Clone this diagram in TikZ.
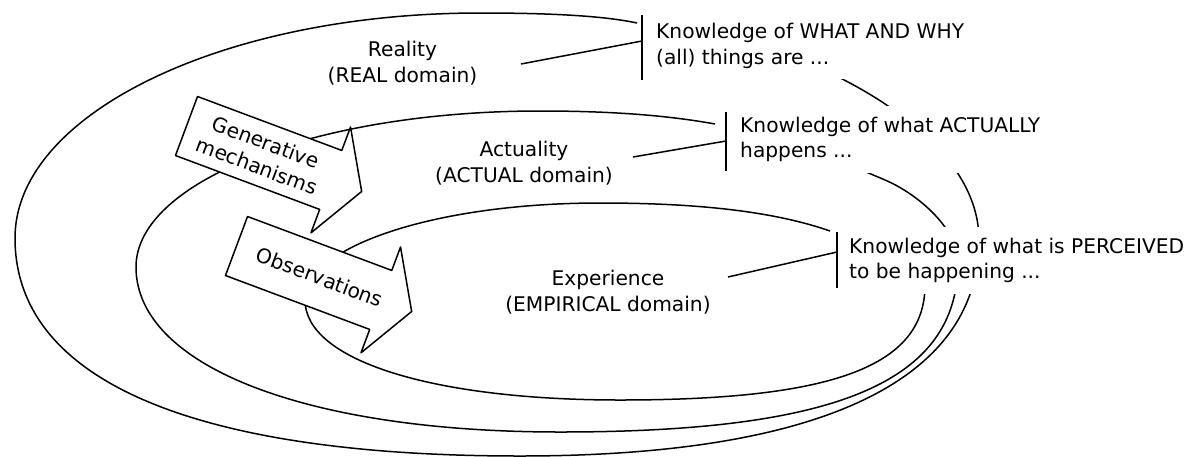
\documentclass[tikz,border=0pt]{standalone}
\usepackage{fontspec}
\setmainfont{DejaVu Sans}
\begin{document}
\begin{tikzpicture}[x=1pt,y=-1pt,line join=round,
  txt/.style={font=\fontsize{20.2}{25.5}\selectfont},
  lbl/.style={txt,align=center,inner sep=0pt},
  know/.style={txt,align=left,fill=white,inner xsep=4pt,inner ysep=11pt,anchor=base west},
  ring/.style={line width=1.5pt},
  link/.style={line width=1.5pt},
  blockarrow/.style={line width=1.5pt,fill=white}]
\useasboundingbox (0,0) rectangle (1188,456);

% outer ring (REAL)
\draw[ring] (637,23) .. controls (600,15) and (540,13) .. (480,13)
  .. controls (223,13) and (15,114) .. (15,238)
  .. controls (15,380) and (192,456) .. (520,456)
  .. controls (821,456) and (979,380) .. (979,240)
  .. controls (979,175) and (920,120) .. (848,82) -- (810,62);
% middle ring (ACTUAL)
\draw[ring] (715,124) .. controls (660,114) and (600,111) .. (540,111)
  .. controls (317,111) and (136,181) .. (136,267)
  .. controls (136,366) and (306,432) .. (560,432)
  .. controls (839,432) and (958,381) .. (958,262)
  .. controls (958,230) and (920,195) .. (885,180) -- (845,163);
% inner ring (EMPIRICAL)
\draw[ring] (830,231) .. controls (770,210) and (690,203) .. (600,203)
  .. controls (437,203) and (305,246) .. (305,300)
  .. controls (305,360) and (431,400) .. (620,400)
  .. controls (834,400) and (925,366) .. (925,285)
  .. controls (925,270) and (922,260) .. (915,250);

% block arrows
\begin{scope}[shift={(186.5,126)},rotate=-20.5]
  \draw[blockarrow] (0,-31.5) -- (154,-31.5) -- (154,-56.5) -- (187,0) -- (154,56.5) -- (154,31.5) -- (0,31.5) -- cycle;
  \node[lbl,rotate=-20.5] (gen) at (80,0) {Generative\\mechanisms};
\end{scope}
\begin{scope}[shift={(236.5,246)},rotate=-20.5]
  \draw[blockarrow] (0,-31.5) -- (154,-31.5) -- (154,-56.5) -- (187,0) -- (154,56.5) -- (154,31.5) -- (0,31.5) -- cycle;
  \node[lbl,rotate=-20.5] (obs) at (89,0) {Observations};
\end{scope}

% domain labels (anchor = baseline of last line)
\node[lbl,anchor=base] (real) at (402.5,82) {Reality\\(REAL domain)};
\node[lbl,anchor=base] (actual) at (524,182) {Actuality\\(ACTUAL domain)};
\node[lbl,anchor=base] (empir) at (608,311) {Experience\\(EMPIRICAL domain)};

% knowledge texts
\node[know] (k1) at (652,64) {Knowledge of WHAT AND WHY\\(all) things are ...};
\node[know] (k2) at (736,157.5) {Knowledge of what ACTUALLY\\happens ...};
\node[know] (k3) at (845,278.5) {Knowledge of what is PERCEIVED\\to be happening ...};

% brackets
\draw[link] (642,15) -- (642,80);
\draw[link] (726,112) -- (726,171);
\draw[link] (837,232) -- (837,288);

% connectors
\coordinate (r1) at (521,64);  \coordinate (b1) at (642,41);
\coordinate (a1) at (633,157); \coordinate (b2) at (726,141);
\coordinate (e1) at (728,277); \coordinate (b3) at (837,252);
\draw[link] (r1) -- (b1);
\draw[link] (a1) -- (b2);
\draw[link] (e1) -- (b3);
\end{tikzpicture}
\end{document}
